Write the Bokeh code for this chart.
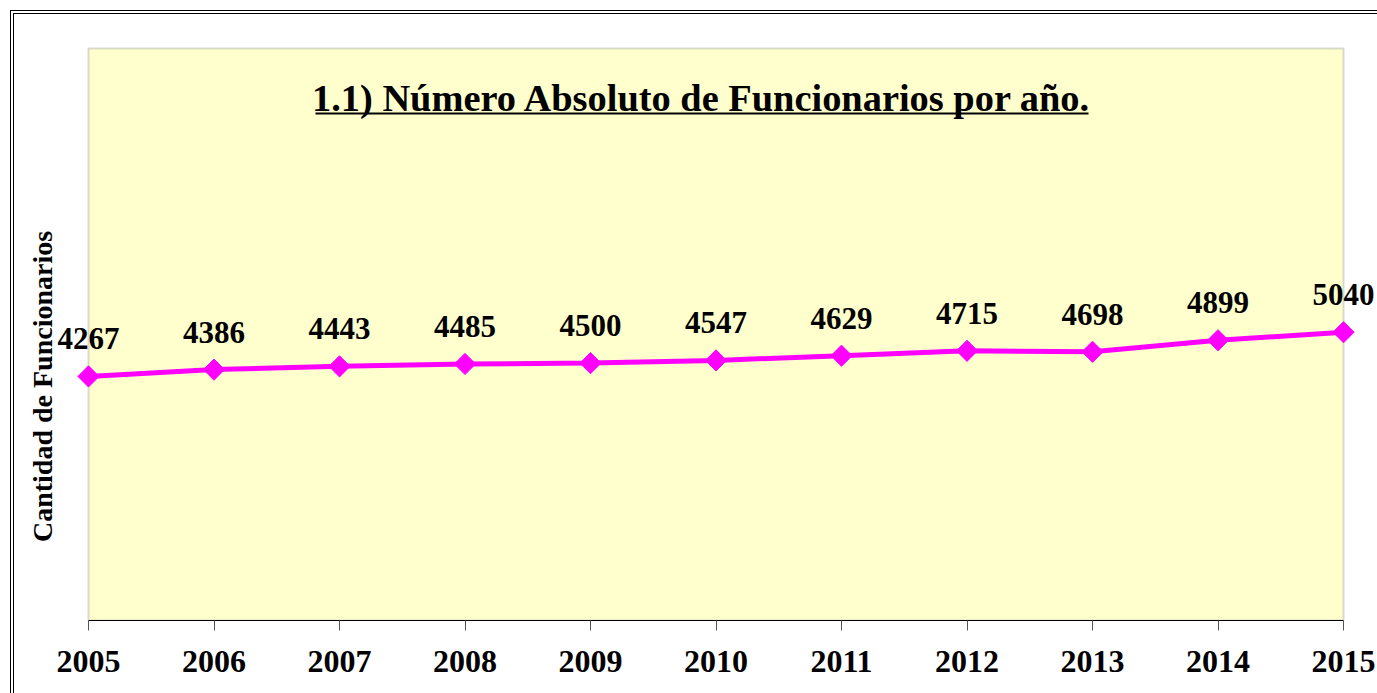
import math
from bokeh.plotting import figure
from bokeh.models import ColumnDataSource, LabelSet, Label, BoxAnnotation, Range1d, FixedTicker
from bokeh.embed import file_html
from bokeh.resources import INLINE

years = [2005, 2006, 2007, 2008, 2009, 2010, 2011, 2012, 2013, 2014, 2015]
funcionarios = [4267, 4386, 4443, 4485, 4500, 4547, 4629, 4715, 4698, 4899, 5040]
labels = [str(v) for v in funcionarios]
title_text = "1.1) Número Absoluto de Funcionarios por año."
y_label = "Cantidad de Funcionarios"

FONT = "Liberation Serif"
OFF = 14                      # canvas origin inside the page (double border)
W, H = 1377 - 10, 693 - 10
PX_YEAR = 125.5               # pixels per year
AREA_L, AREA_R = 88 - OFF, 1343 - OFF      # plot-area x in canvas px
AREA_T, AREA_B = 48 - OFF, 620 - OFF       # plot-area y in canvas px
Y_MAX = 10000
PX_VAL = (AREA_B - AREA_T) / Y_MAX

x_lo = years[0] - AREA_L / PX_YEAR
x_hi = years[-1] + (W - AREA_R) / PX_YEAR
y_hi = Y_MAX + AREA_T / PX_VAL


def vy(img_y):
    """value at image pixel row img_y"""
    return (AREA_B - (img_y - OFF)) / PX_VAL


def vx(img_x):
    return years[0] + ((img_x - OFF) - AREA_L) / PX_YEAR


src = ColumnDataSource(dict(x=years, y=funcionarios, t=labels))

p = figure(width=W, height=H, output_backend="svg", toolbar_location=None,
           x_range=Range1d(x_lo, x_hi), y_range=Range1d(0, y_hi),
           min_border_left=0, min_border_right=0, min_border_top=0,
           min_border_bottom=H - AREA_B)
p.styles = {"margin-left": "10px", "margin-top": "10px",
            "border-left": "4px double black", "border-top": "4px double black"}
p.background_fill_color = "white"
p.border_fill_color = "white"
p.outline_line_color = None
p.grid.visible = False
p.yaxis.visible = False

# plot area
p.add_layout(BoxAnnotation(left=years[0], right=years[-1], bottom=0, top=Y_MAX,
                           fill_color="#FFFFCE", fill_alpha=1.0,
                           line_color="#808080", line_width=2, level="underlay"))

p.line("x", "y", source=src, line_color="#FF00FF", line_width=5)
p.scatter("x", "y", source=src, marker="square", angle=math.pi / 4, size=15,
          fill_color="#FF00FF", line_color="#FF00FF")

p.add_layout(LabelSet(x="x", y="y", text="t", source=src, y_offset=27,
                      text_align="center", text_baseline="alphabetic",
                      text_font=FONT, text_font_style="bold", text_font_size="31px",
                      text_color="black"))

# title with underline
tx = vx(701.5)
p.add_layout(Label(x=tx, y=vy(110 - 13), text=title_text,
                   text_align="center", text_baseline="alphabetic",
                   text_font=FONT, text_font_style="bold", text_font_size="38.4px",
                   text_color="black"))
p.add_layout(BoxAnnotation(left=vx(315), right=vx(1088),
                           bottom=vy(114), top=vy(112),
                           fill_color="black", fill_alpha=1, line_color=None, level="overlay"))

# y label
p.add_layout(Label(x=vx(42), y=vy(386), text=y_label, angle=math.pi / 2,
                   text_align="center", text_baseline="middle",
                   text_font=FONT, text_font_style="bold", text_font_size="28px",
                   text_color="black"))

# x axis
p.xaxis.ticker = FixedTicker(ticks=years)
p.xaxis.bounds = (years[0], years[-1])
p.xaxis.axis_line_color = "black"
p.xaxis.axis_line_width = 1
p.xaxis.major_tick_in = 0
p.xaxis.major_tick_out = 10
p.xaxis.major_tick_line_color = "#555555"
p.xaxis.minor_tick_line_color = None
p.xaxis.major_label_text_font = FONT
p.xaxis.major_label_text_font_style = "bold"
p.xaxis.major_label_text_font_size = "32px"
p.xaxis.major_label_text_color = "black"
p.xaxis.major_label_standoff = 20

open("out.html", "w").write(file_html(p, INLINE))
